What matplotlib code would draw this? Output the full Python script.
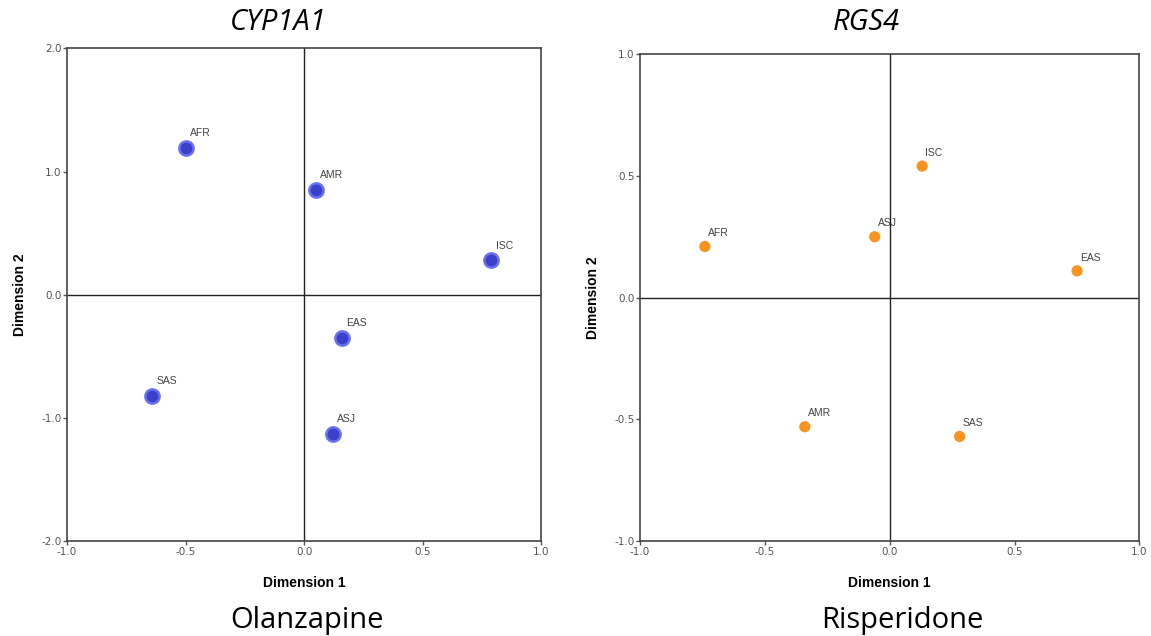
import matplotlib.pyplot as plt

regions = ['AFR', 'AMR', 'ISC', 'EAS', 'SAS', 'ASJ']
olz_dim1 = [-0.50, 0.05, 0.79, 0.16, -0.64, 0.12]
olz_dim2 = [1.19, 0.85, 0.28, -0.35, -0.82, -1.13]

ris_regions = ['AFR', 'ASJ', 'ISC', 'EAS', 'AMR', 'SAS']
ris_dim1 = [-0.74, -0.06, 0.13, 0.75, -0.34, 0.28]
ris_dim2 = [0.21, 0.25, 0.54, 0.11, -0.53, -0.57]

olz_ticks_y = [-2.0, -1.0, 0.0, 1.0, 2.0]
ris_ticks_y = [-1.0, -0.5, 0.0, 0.5, 1.0]
ticks_x = [-1.0, -0.5, 0.0, 0.5, 1.0]

fig = plt.figure(figsize=(11.51, 6.36), dpi=100)
ax1 = fig.add_axes([0.0582, 0.149, 0.412, 0.775])
ax2 = fig.add_axes([0.556, 0.149, 0.434, 0.766])


def style_axis(ax, yticks):
	ax.set_xlim(-1, 1)
	ax.set_ylim(yticks[0], yticks[-1])
	ax.set_xticks(ticks_x)
	ax.set_yticks(yticks)
	ax.set_xticklabels(['%.1f' % t for t in ticks_x])
	ax.set_yticklabels(['%.1f' % t for t in yticks])
	ax.tick_params(labelsize=7.5, colors='#555555', length=3, width=1, pad=1)
	for sp in ax.spines.values():
		sp.set_color('#444444')
		sp.set_linewidth(1.2)
	ax.axhline(0, color='#222222', lw=1, zorder=1)
	ax.axvline(0, color='#222222', lw=1, zorder=1)
	ax.set_xlabel('Dimension 1', fontsize=10, fontweight='bold', family='Liberation Sans', labelpad=14)
	ax.set_ylabel('Dimension 2', fontsize=10, fontweight='bold', family='Liberation Sans', labelpad=10)


style_axis(ax1, olz_ticks_y)
style_axis(ax2, ris_ticks_y)

ax1.scatter(olz_dim1, olz_dim2, s=105, c='#3a40c8', edgecolors='#6a70f2', linewidth=1.8, zorder=3)
for x, y, name in zip(olz_dim1, olz_dim2, regions):
	ax1.annotate(name, xy=(x, y), xytext=(3, 7), textcoords='offset points', fontsize=7.5,
		color='#444444', ha='left', va='bottom', family='Liberation Sans')

ax2.scatter(ris_dim1, ris_dim2, s=65, c='#f7931e', edgecolors='none', zorder=3)
for x, y, name in zip(ris_dim1, ris_dim2, ris_regions):
	ax2.annotate(name, xy=(x, y), xytext=(2, 6), textcoords='offset points', fontsize=7.5,
		color='#444444', ha='left', va='bottom', family='Liberation Sans')

fig.text(0.242, 0.965, 'CYP1A1', fontsize=21, style='italic', family='Open Sans', ha='center', va='center')
fig.text(0.753, 0.965, 'RGS4', fontsize=21, style='italic', family='Open Sans', ha='center', va='center')
fig.text(0.267, 0.025, 'Olanzapine', fontsize=21, family='Open Sans', ha='center', va='center')
fig.text(0.784, 0.025, 'Risperidone', fontsize=21, family='Open Sans', ha='center', va='center')

fig.savefig('out.png', dpi=100)
